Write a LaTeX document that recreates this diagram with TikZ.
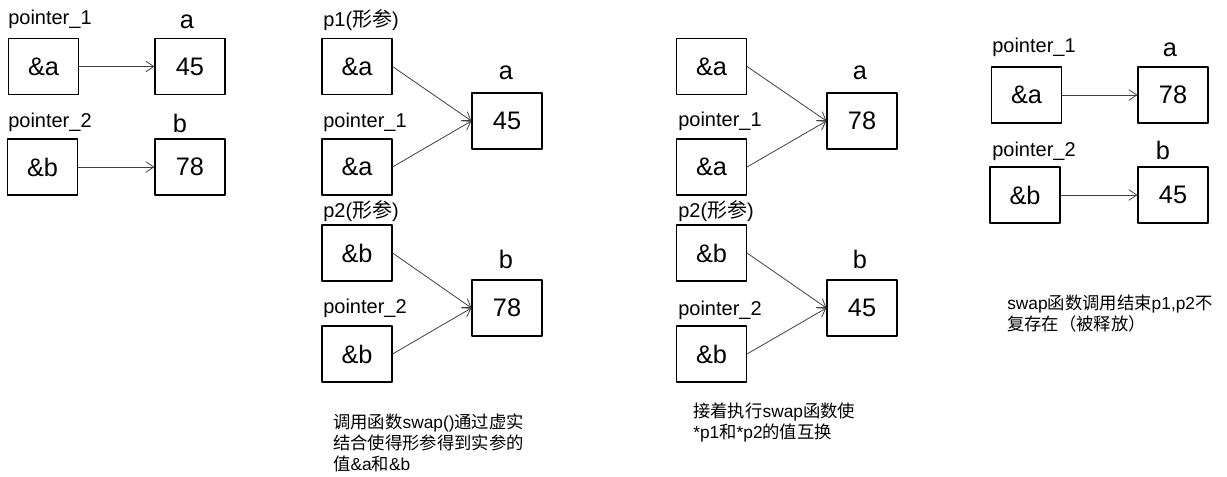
\documentclass[tikz,border=0pt]{standalone}
\usepackage{fontspec}
\setmainfont{Liberation Sans}
\newfontfamily\cjk{Noto Sans CJK SC}
\usetikzlibrary{arrows.meta}
\begin{document}
\begin{tikzpicture}[x=0.75pt, y=-0.75pt, line cap=round, line join=round, >={Straight Barb[length=6pt,width=8pt]}]
	\tikzset{box/.style={draw, line width=0.8pt, minimum width=52.5pt, minimum height=42pt, inner sep=0pt, font=\fontsize{19}{22}\selectfont},
		ptrname/.style={anchor=base west, inner sep=0pt, font=\fontsize{15}{18}\selectfont},
		varname/.style={anchor=base, inner sep=0pt, font=\fontsize{19}{22}\selectfont},
		note/.style={anchor=north west, inner sep=0pt, align=left, font=\fontsize{13}{15.75}\selectfont},
		ptr/.style={->, draw=black!75, line width=0.6pt}}
	\useasboundingbox (0,0) rectangle (1227,477);
	% before the call
	\node[ptrname] (n11) at (8,25) {pointer\_1};
	\node[varname] (na1) at (187,29) {a};
	\node[box] (A1) at (43.5,66.5) {\&a};
	\node[box] (V1) at (190,66.5) {45};
	\node[ptrname] (n12) at (8,128) {pointer\_2};
	\node[varname] (nb1) at (180,133) {b};
	\node[box] (B1) at (42.5,167) {\&b};
	\node[box] (W1) at (190,167) {78};
	\draw[ptr] (A1) -- (V1);
	\draw[ptr] (B1) -- (W1);
	% swap() called
	\node[ptrname] (np1) at (323,27) {p1({\cjk 形参})};
	\node[box] (P2) at (357,66.5) {\&a};
	\node[ptrname] (n21) at (323,128) {pointer\_1};
	\node[box] (A2) at (357,167) {\&a};
	\node[varname] (na2) at (506,80) {a};
	\node[box] (V2) at (507,121) {45};
	\node[ptrname] (np2) at (323,218) {p2({\cjk 形参})};
	\node[box] (Q2) at (357,253) {\&b};
	\node[ptrname] (n22) at (323,313) {pointer\_2};
	\node[box] (B2) at (357,354) {\&b};
	\node[varname] (nb2) at (506,268) {b};
	\node[box] (W2) at (507,308) {78};
	\draw[ptr] (P2.east) -- (V2.west);
	\draw[ptr] (A2.east) -- (V2.west);
	\draw[ptr] (Q2.east) -- (W2.west);
	\draw[ptr] (B2.east) -- (W2.west);
	\node[note] (t2) at (333,414) {{\cjk 调用函数}swap(){\cjk 通过虚实}\\{\cjk 结合使得形参得到实参的}\\{\cjk 值}\&a{\cjk 和}\&b};
	% values swapped
	\node[box] (P3) at (711.5,66.5) {\&a};
	\node[ptrname] (n31) at (678,127) {pointer\_1};
	\node[box] (A3) at (711.5,167) {\&a};
	\node[varname] (na3) at (860,80) {a};
	\node[box] (V3) at (862,121) {78};
	\node[ptrname] (np3) at (678,218) {p2({\cjk 形参})};
	\node[box] (Q3) at (711.5,253) {\&b};
	\node[ptrname] (n32) at (678,315) {pointer\_2};
	\node[box] (B3) at (711.5,354) {\&b};
	\node[varname] (nb3) at (860,268) {b};
	\node[box] (W3) at (862,308) {45};
	\draw[ptr] (P3.east) -- (V3.west);
	\draw[ptr] (A3.east) -- (V3.west);
	\draw[ptr] (Q3.east) -- (W3.west);
	\draw[ptr] (B3.east) -- (W3.west);
	\node[note] (t3) at (693,403) {{\cjk 接着执行}swap{\cjk 函数使}\\*p1{\cjk 和}*p2{\cjk 的值互换}};
	% after the call
	\node[ptrname] (n41) at (992,53) {pointer\_1};
	\node[varname] (na4) at (1170,57) {a};
	\node[box] (A4) at (1026.5,95) {\&a};
	\node[box] (V4) at (1173,95) {78};
	\node[ptrname] (n42) at (992,157) {pointer\_2};
	\node[varname] (nb4) at (1163,160) {b};
	\node[box] (B4) at (1025,195) {\&b};
	\node[box] (W4) at (1173,195) {45};
	\draw[ptr] (A4) -- (V4);
	\draw[ptr] (B4) -- (W4);
	\node[note] (t4) at (1007,295) {swap{\cjk 函数调用结束}p1,p2{\cjk 不}\\{\cjk 复存在（被释放）}};
\end{tikzpicture}
\end{document}
